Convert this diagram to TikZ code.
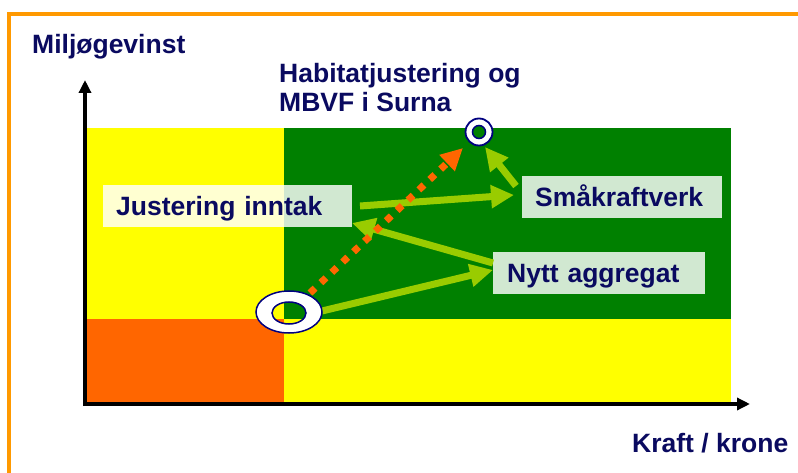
\documentclass[tikz,border=0pt]{standalone}
\usepackage{fontspec}
\setmainfont{Liberation Sans}
\usetikzlibrary{arrows.meta}
\definecolor{frameor}{HTML}{FF9900}
\definecolor{ylw}{HTML}{FFFF00}
\definecolor{grn}{HTML}{008000}
\definecolor{redor}{HTML}{FF6600}
\definecolor{lime}{HTML}{99CC00}
\definecolor{navy}{HTML}{0A0A60}
\definecolor{ringc}{HTML}{000080}
\begin{document}
\begin{tikzpicture}[x=1pt,y=-1pt,
  lbl/.style={inner sep=0pt, text=navy, font=\fontsize{26.5}{29}\selectfont\bfseries},
  labelbox/.style={fill=white, fill opacity=0.82, text opacity=1, text=navy,
    font=\fontsize{26.5}{29}\selectfont\bfseries, inner xsep=13pt, inner ysep=0pt,
    minimum height=41.5pt, align=left, text height=19pt, text depth=0pt, anchor=north west},
  axisline/.style={line width=4pt, -{Triangle[length=13pt,width=12pt]}},
  garrow/.style={lime, line width=7pt, -{Triangle[length=23pt,width=22pt]}},
  oarrow/.style={redor, line width=7pt, dash pattern=on 7pt off 8pt, -{Triangle[length=22pt,width=21pt]}}
]
\clip (0,0) rectangle (798,473);
\fill[white] (0,0) rectangle (798,473);
\draw[frameor, line width=4pt] (9,14) rectangle (840,520);
% quadrants
\fill[ylw] (85,128) rectangle (731,404);
\fill[grn] (284,128) rectangle (731,319);
\fill[redor] (85,319) rectangle (284,404);
% axes
\coordinate (yfoot) at (85,406);
\coordinate (ytip) at (85,80);
\coordinate (xfoot) at (83,404);
\coordinate (xtip) at (750,404);
\draw[axisline] (yfoot) -- (ytip);
\draw[axisline] (xfoot) -- (xtip);
% labels
\node[lbl, anchor=base west] (ylab) at (32,54) {Miljøgevinst};
\node[lbl, anchor=base west] (xlab) at (632,452) {Kraft / krone};
\node[lbl, anchor=base west] (hab1) at (279,83) {Habitatjustering og};
\node[lbl, anchor=base west] (hab2) at (279,112) {MBVF i Surna};
% boxes
\node[labelbox, text width=223pt] (just) at (103,185) {Justering inntak};
\node[labelbox, text width=174pt] (smaa) at (522,176) {Småkraftverk};
\node[labelbox, text width=184pt, inner xsep=14pt] (nytt) at (493,252) {Nytt aggregat};
% connector end points
\coordinate (a1s) at (322,311);
\coordinate (a1e) at (493,270);
\coordinate (a2s) at (493,263);
\coordinate (a2e) at (352,223);
\coordinate (a3s) at (360,206);
\coordinate (a3e) at (514,195);
\coordinate (a4s) at (516,186);
\coordinate (a4e) at (485,147);
\coordinate (o1s) at (310,293);
\coordinate (o1e) at (463,148);
\draw[garrow] (a1s) -- (a1e);
\draw[garrow] (a2s) -- (a2e);
\draw[garrow] (a3s) -- (a3e);
\draw[garrow] (a4s) -- (a4e);
\draw[oarrow] (o1s) -- (o1e);
% rings
\coordinate (bigring) at (289,312);
\coordinate (bighole) at (289,313);
\coordinate (smallring) at (479,132);
\fill[white, even odd rule] (bigring) ellipse [x radius=33pt, y radius=21pt]
  (bighole) ellipse [x radius=17pt, y radius=11pt];
\draw[ringc, line width=1.5pt] (bigring) ellipse [x radius=33pt, y radius=21pt];
\draw[ringc, line width=1.5pt] (bighole) ellipse [x radius=17pt, y radius=11pt];
\draw[ringc, fill=white, line width=1.8pt] (smallring) circle [radius=13.5pt];
\draw[ringc, fill=grn, line width=1.5pt] (smallring) circle [radius=6.5pt];
\end{tikzpicture}
\end{document}
